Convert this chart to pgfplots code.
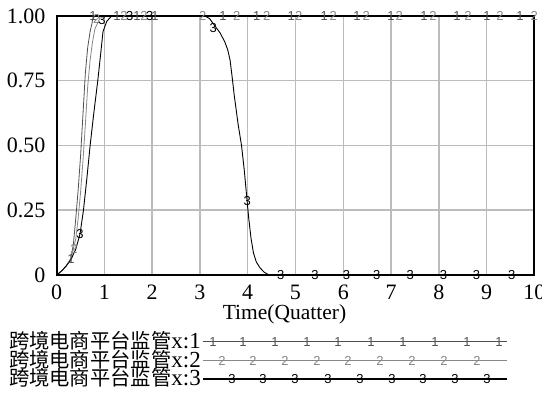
\documentclass[border=0pt]{standalone}
\usepackage{pgfplots}
\pgfplotsset{compat=1.18}
\usepackage{fontspec}
\setmainfont{Liberation Serif}
\setsansfont{Liberation Sans}
\newfontfamily\cjk{Noto Sans CJK SC}
\definecolor{sone}{RGB}{80,80,80}
\definecolor{stwo}{RGB}{135,135,135}
\definecolor{sthree}{RGB}{0,0,0}
\definecolor{gridc}{RGB}{188,188,188}
\newcommand\mk{\fontsize{13}{13}\selectfont\sffamily}
\pgfplotsset{
  tmark/.style 2 args={only marks, mark=text, text mark={#1}, text mark as node=true,
    text mark style={font=\mk, text=#2, inner sep=0pt, anchor=center}, color=#2},
}
\begin{document}
\begin{tikzpicture}[x=1pt,y=1pt]
\useasboundingbox (0,0) rectangle (542,402);
\begin{axis}[at={(56.7pt,127pt)}, anchor=south west, scale only axis,
  width=477.6pt, height=259pt, xmin=0, xmax=10, ymin=0, ymax=1,
  xtick={0,1,2,3,4,5,6,7,8,9,10}, xticklabels={0,1,2,3,4,5,6,7,8,9,10},
  ytick={0,0.25,0.5,0.75,1}, yticklabels={0,0.25,0.50,0.75,1.00},
  grid=major, major grid style={gridc, line width=1.5pt},
  axis line style={line width=2pt}, major tick length=0pt,
  tick label style={font=\fontsize{22}{22}\selectfont, inner sep=0pt},
  xticklabel shift=9.5pt, yticklabel shift=11pt,
  xlabel={Time(Quatter)},
  xlabel style={font=\fontsize{21.5}{21.5}\selectfont, at={(axis description cs:0.477,-0.17)}, anchor=base, inner sep=0pt},
  clip=false]
% series 1
\addplot[sone, line width=0.8pt] coordinates {(0,0) (0.1,0.015) (0.2,0.035) (0.3,0.065) (0.35,0.12) (0.4,0.22) (0.45,0.33) (0.5,0.46) (0.55,0.62) (0.6,0.78) (0.65,0.88) (0.7,0.94) (0.76,0.99) (0.8,1) (10,1)};
% series 2
\addplot[stwo, line width=0.8pt] coordinates {(0,0) (0.1,0.015) (0.2,0.035) (0.3,0.065) (0.4,0.14) (0.45,0.22) (0.5,0.32) (0.55,0.44) (0.6,0.58) (0.65,0.73) (0.7,0.83) (0.75,0.9) (0.8,0.95) (0.9,0.99) (1.0,1) (10,1)};
% series 3
\addplot[sthree, line width=0.9pt] coordinates {(0,0) (0.1,0.015) (0.2,0.035) (0.3,0.06) (0.4,0.10) (0.49,0.16) (0.56,0.25) (0.63,0.37) (0.7,0.5) (0.78,0.63) (0.86,0.75) (0.93,0.87) (0.97,0.94) (1.05,0.98) (1.15,1) (3.1,1) (3.2,0.99) (3.3,0.965) (3.42,0.935) (3.52,0.9) (3.58,0.87) (3.63,0.83) (3.67,0.77) (3.72,0.69) (3.8,0.58) (3.87,0.5) (3.93,0.4) (3.98,0.3) (4.02,0.22) (4.07,0.14) (4.12,0.085) (4.18,0.05) (4.26,0.027) (4.35,0.01) (4.45,0) (10,0)};
% markers
\addplot[tmark={1}{sone}] coordinates {(0.3,0.06) (0.76,1) (1.26,1) (1.68,1) (2.06,1) (3.48,1) (4.19,1) (4.91,1) (5.60,1) (6.29,1) (7.00,1) (7.69,1) (8.38,1) (9.01,1) (9.70,1)};
\addplot[tmark={2}{stwo}] coordinates {(0.36,0.1) (0.84,0.99) (1.41,1) (1.83,1) (3.06,1) (3.77,1) (4.40,1) (5.07,1) (5.79,1) (6.48,1) (7.17,1) (7.88,1) (8.61,1) (9.28,1) (10,1)};
\addplot[tmark={3}{sthree}] coordinates {(0.49,0.16) (0.95,0.985) (1.53,1) (1.95,1) (3.28,0.955) (3.99,0.286) (4.69,0) (5.41,0) (6.07,0) (6.70,0) (7.40,0) (8.10,0) (8.79,0) (9.53,0)};
\draw[line width=2pt] (rel axis cs:0,0) rectangle (rel axis cs:1,1);
\end{axis}
% legend drawn in an invisible pixel-coordinate axis
\begin{axis}[at={(0pt,0pt)}, anchor=south west, scale only axis, width=542pt, height=402pt,
  xmin=0, xmax=542, ymin=0, ymax=402, hide axis, clip=false]
\addplot[sone, line width=0.8pt] coordinates {(203,60.3) (507,60.3)};
\addplot[stwo, line width=0.9pt] coordinates {(203,41.3) (507,41.3)};
\addplot[sthree, line width=2.2pt] coordinates {(203,22.7) (507,22.7)};
\addplot[tmark={1}{sone}] coordinates {(213,60.3) (243,60.3) (275,60.3) (307,60.3) (338,60.3) (371,60.3) (403,60.3) (435,60.3) (467,60.3) (499,60.3)};
\addplot[tmark={2}{stwo}] coordinates {(222,41.3) (253,41.3) (285,41.3) (317,41.3) (348,41.3) (380,41.3) (412,41.3) (444,41.3) (477,41.3)};
\addplot[tmark={3}{sthree}] coordinates {(232,22.7) (263,22.7) (295,22.7) (328,22.7) (360,22.7) (392,22.7) (423,22.7) (455,22.7) (487,22.7)};
\node[anchor=base east, inner sep=0pt] at (axis cs:201,53.8) {{\fontsize{20.3}{20.3}\cjk 跨境电商平台监管}{\fontsize{23}{23}\selectfont x:1}};
\node[anchor=base east, inner sep=0pt] at (axis cs:201,34.8) {{\fontsize{20.3}{20.3}\cjk 跨境电商平台监管}{\fontsize{23}{23}\selectfont x:2}};
\node[anchor=base east, inner sep=0pt] at (axis cs:201,16.2) {{\fontsize{20.3}{20.3}\cjk 跨境电商平台监管}{\fontsize{23}{23}\selectfont x:3}};
\end{axis}
\end{tikzpicture}
\end{document}
